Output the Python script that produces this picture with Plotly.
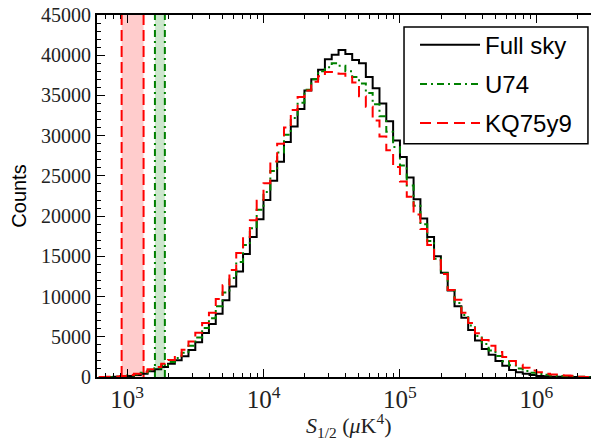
import numpy as np
import plotly.graph_objects as go

# Histogram binning (log10 of S_1/2), 0.05 dex bins
log_bin_start = 2.80
log_bin_width = 0.05

full_sky = [0, 5, 20, 60, 130, 250, 400, 700, 950, 1250,
            1650, 2080, 2580, 3350, 4330, 5480, 6600, 7850, 9550, 11250,
            13100, 15300, 17400, 19600, 22000, 24400, 26750, 29200, 31150, 33300,
            35600, 37000, 38200, 39500, 40050, 40650, 40150, 39400, 39000, 37300,
            35900, 34000, 31800, 29400, 27350, 24800, 22100, 19700, 17400, 15000,
            12950, 10750, 8800, 7350, 5850, 4550, 3470, 2770, 2000, 1400,
            880, 600, 400, 250, 130, 80, 40, 20, 10, 5,
            0, 0]

u74 = [2, 12, 40, 95, 190, 320, 520, 820, 1100, 1450,
       1880, 2370, 3000, 3880, 4920, 6100, 7300, 8800, 10500, 12300,
       14300, 16400, 18500, 20800, 23000, 25600, 27900, 30100, 32200, 34100,
       35700, 37000, 38000, 38500, 39000, 38700, 38000, 37300, 36500, 35300,
       33900, 32400, 30500, 28600, 26300, 23800, 21300, 19000, 16900, 14700,
       12900, 10800, 9200, 7700, 6400, 5100, 4100, 3300, 2600, 1950,
       1450, 1050, 750, 520, 380, 270, 190, 130, 90, 60,
       20, 0]

kq75y9 = [5, 20, 60, 130, 250, 400, 650, 950, 1250, 1650,
          2100, 2650, 3400, 4400, 5500, 6700, 8000, 9700, 11400, 13300,
          15400, 17400, 19500, 21900, 24100, 26800, 29000, 31000, 33200, 34800,
          35600, 36700, 37400, 37900, 37900, 37700, 37300, 36600, 34900, 33600,
          31900, 29900, 28200, 26100, 24300, 22400, 20200, 18400, 16400, 14500,
          12800, 10800, 9600, 8000, 6700, 5450, 4600, 3900, 3100, 2500,
          2000, 1530, 1150, 820, 600, 410, 300, 220, 180, 150,
          30, 0]

# Observed-value bands (S_1/2 in muK^4)
kq75y9_band = [912, 1321]
u74_band = [1600, 1892]

y_max = 45000

n_bins = len(full_sky)
edges = 10 ** (log_bin_start + log_bin_width * np.arange(n_bins + 1))


def step_xy(counts):
    x = [edges[0]] + list(edges)
    y = [0] + list(counts) + [0]
    return x, y


fig = go.Figure()


def add_band(band, fill, color, dash):
    a, b = band
    fig.add_trace(go.Scatter(x=[a, a, b, b, a], y=[0, y_max, y_max, 0, 0],
                             fill="toself", fillcolor=fill, mode="lines",
                             line=dict(width=0), showlegend=False, hoverinfo="skip"))
    fig.add_trace(go.Scatter(x=[a, a, None, b, b], y=[0, y_max, None, 0, y_max],
                             mode="lines", line=dict(color=color, width=2, dash=dash),
                             showlegend=False, hoverinfo="skip"))


add_band(kq75y9_band, "rgba(255,0,0,0.2)", "#ff0000", "11px,5px")
add_band(u74_band, "rgba(0,128,0,0.2)", "#008000", "7px,4px,2px,4px")

series = [
    ("Full sky", full_sky, "#000000", "solid", "g1"),
    ("U74", u74, "#008000", "7px,4px,2px,4px", "g2"),
    ("KQ75y9", kq75y9, "#ff0000", "11px,6px", "g3"),
]
for name, counts, color, dash, grp in series:
    x, y = step_xy(counts)
    fig.add_trace(go.Scatter(x=x, y=y, mode="lines", name=name, legendgroup=grp,
                             line=dict(color=color, width=2, dash=dash, shape="hv")))

tick_font = dict(family="Liberation Serif", size=20, color="#222")

# legend frame (matplotlib style box)
fig.add_shape(type="rect", xref="paper", yref="paper",
              x0=0.6116, x1=0.978, y0=0.6442, y1=0.967,
              line=dict(color="black", width=1.5), fillcolor="white", layer="above")

# x-axis title
fig.add_annotation(xref="paper", yref="paper", x=0.5, y=-0.133,
                   xanchor="center", yanchor="middle", showarrow=False,
                   text="<i>S</i><sub>1/2</sub> (<i>μ</i>K<sup>4</sup>)",
                   font=dict(family="Liberation Serif", size=22, color="#222"))

# page body has an 8px margin, so the figure is sized/offset to compensate
fig.update_layout(
    width=591, height=433,
    margin=dict(l=89, r=0, t=7, b=64),
    plot_bgcolor="white", paper_bgcolor="white",
    showlegend=True,
    legend=dict(x=0.6335, y=0.979, xanchor="left", yanchor="top",
                borderwidth=0, bgcolor="rgba(0,0,0,0)",
                font=dict(family="Liberation Sans", size=24, color="black"),
                tracegroupgap=5, itemwidth=60, traceorder="grouped"),
    xaxis=dict(type="log", range=[2.7795, 6.459], dtick=1, exponentformat="power",
               showgrid=False, zeroline=False, automargin=False,
               showline=True, linecolor="black", linewidth=2, mirror="allticks",
               ticks="inside", ticklen=8, tickwidth=1, tickcolor="black",
               minor=dict(ticks="inside", ticklen=4, tickwidth=1, tickcolor="black",
                          dtick="D1", showgrid=False),
               tickfont=tick_font, ticklabeloverflow="allow"),
    yaxis=dict(range=[0, y_max], dtick=5000, tickformat="d", showgrid=False,
               zeroline=False, automargin=False, ticklabeloverflow="allow",
               showline=True, linecolor="black", linewidth=2, mirror="allticks",
               ticks="inside", ticklen=8, tickwidth=1, tickcolor="black",
               minor=dict(ticks="inside", ticklen=4, tickwidth=1, tickcolor="black",
                          dtick=1000, showgrid=False),
               tickfont=tick_font,
               title=dict(text="Counts", font=dict(family="Liberation Sans", size=20,
                                                   color="black"), standoff=13)),
)

fig.write_html("out.html")
